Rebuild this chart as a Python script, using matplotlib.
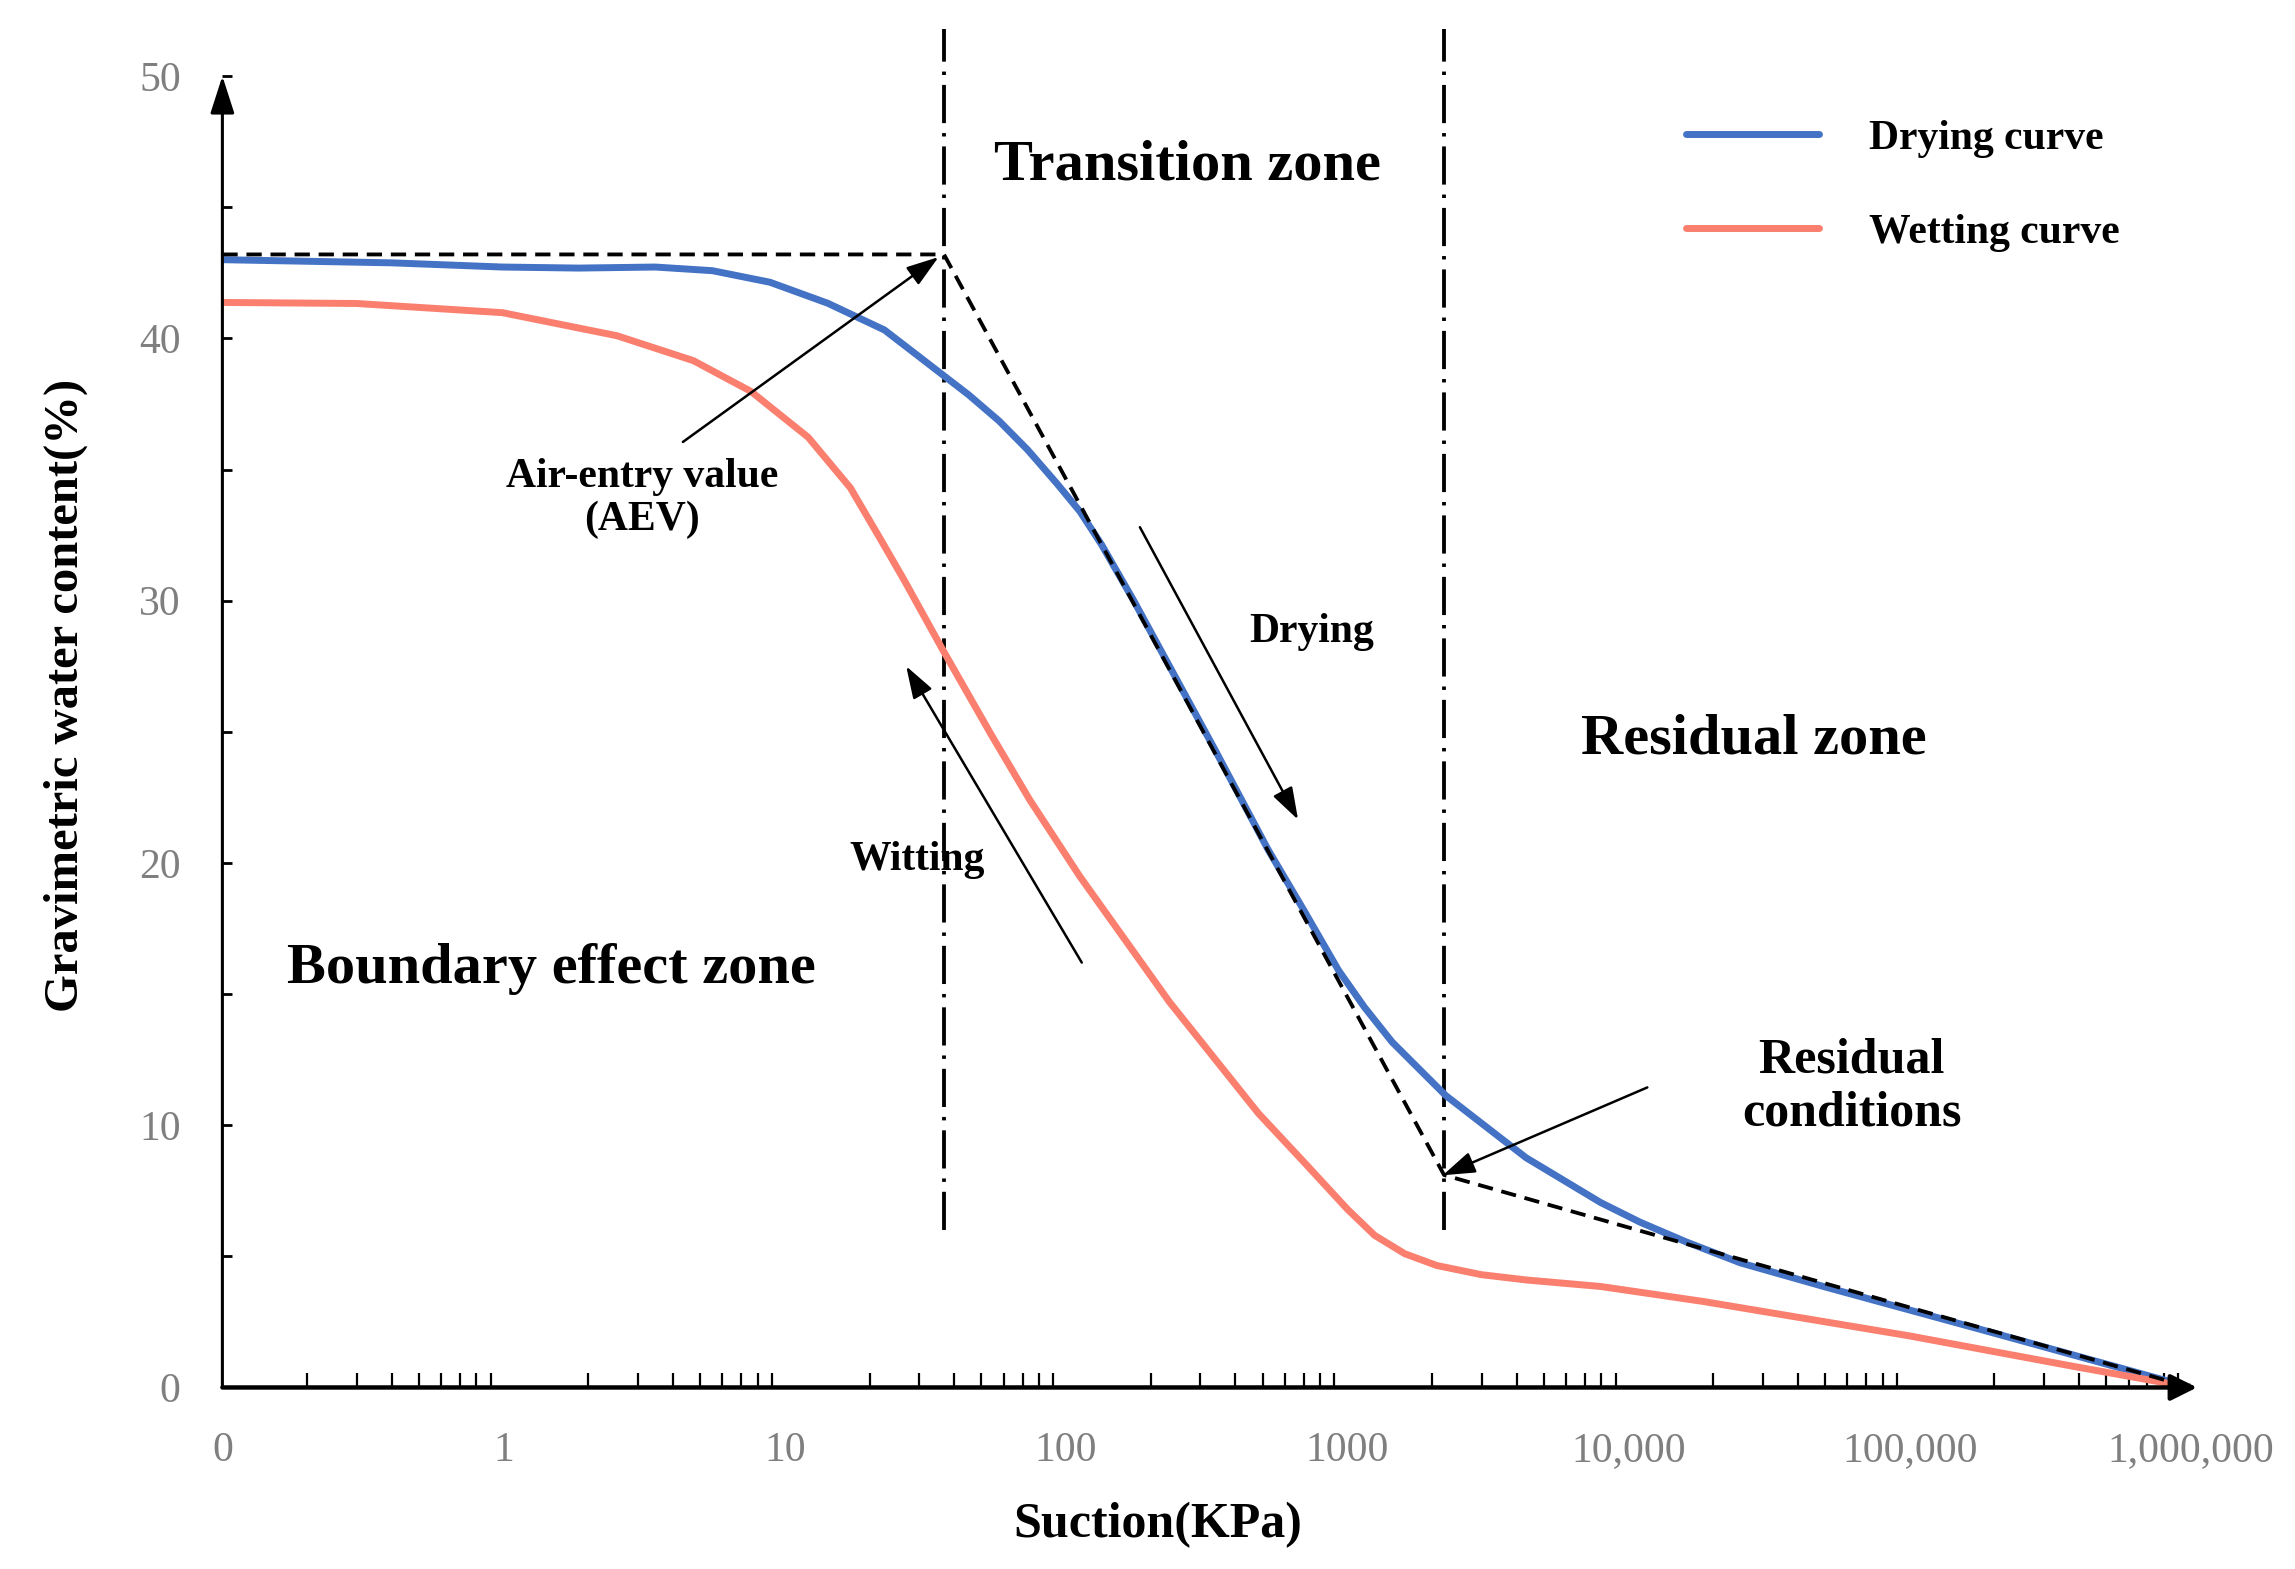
import matplotlib
matplotlib.use('Agg')
import matplotlib.pyplot as plt
from matplotlib.ticker import LogLocator, NullFormatter

plt.rcParams['font.family'] = ['Liberation Serif', 'DejaVu Serif']

# ------------------------------------------------------
# Soil-water characteristic curve
# suction in kPa, gravimetric water content in %
# ------------------------------------------------------
drying_suction = [0.1, 0.4, 0.99, 1.85, 3.46, 5.53, 8.85, 14.2, 22.6, 36.1, 45, 57.8, 73,
                  92.5, 112, 133.6, 174, 335, 523, 700, 931, 1150, 1443, 2239, 4320,
                  7960, 11000, 16030, 25000, 50500, 195000, 1e6]
drying_water = [43.0, 42.88, 42.72, 42.68, 42.72, 42.58, 42.14, 41.34, 40.32, 38.64, 37.85, 36.85, 35.75,
                34.48, 33.4, 32.14, 30.0, 24.4, 20.5, 18.2, 15.9, 14.5, 13.17, 11.13, 8.76,
                7.05, 6.3, 5.55, 4.75, 3.82, 2.1, 0.0]

wetting_suction = [0.1, 0.3, 0.99, 2.53, 4.73, 7.57, 12.1, 17.1, 22, 26.5, 36.1, 54.1, 74.3,
                   112, 233, 483, 700, 1000, 1250, 1600, 2080, 3000, 4320, 7960, 18400,
                   99300, 384000, 1e6]
wetting_water = [41.37, 41.33, 40.98, 40.1, 39.15, 37.98, 36.23, 34.3, 32.3, 30.8, 28.2, 24.9, 22.4,
                 19.48, 14.7, 10.45, 8.6, 6.8, 5.8, 5.1, 4.65, 4.3, 4.1, 3.85, 3.28,
                 1.97, 0.8, 0.0]

# construction lines: AEV point and residual point
tangent_suction = [0.1, 36.8, 2208, 1e6]
tangent_water = [43.2, 43.2, 8.1, 0.0]
zone_bounds = [36.8, 2208]

x_ticks = [0.1, 1, 10, 100, 1000, 1e4, 1e5, 1e6]
x_labels = ['0', '1', '10', '100', '1000', '10,000', '100,000', '1,000,000']
y_ticks = [0, 10, 20, 30, 40, 50]
y_minor = [5, 15, 25, 35, 45]

BLUE = '#4472C4'
RED = '#FA7F6E'
GREY = '#7F7F7F'

fig = plt.figure(figsize=(22.95, 15.69), dpi=100)
ax = fig.add_axes([0.0969, 0.1157, 0.8578, 0.8358])

ax.plot(drying_suction, drying_water, color=BLUE, lw=5, label='Drying curve',
        solid_capstyle='round', solid_joinstyle='round', zorder=3)
ax.plot(wetting_suction, wetting_water, color=RED, lw=5, label='Wetting curve',
        solid_capstyle='round', solid_joinstyle='round', zorder=3)
ax.plot(tangent_suction, tangent_water, color='black', lw=2.75, dashes=(4, 2.3), zorder=4)

for xb in zone_bounds:
    ax.plot([xb, xb], [6.0, 51.8], color='black', lw=2.75,
            dashes=(10, 2.6, 0.9, 2.6), clip_on=False, zorder=2)

ax.set_xscale('log')
ax.set_xlim(0.1, 1e6)
ax.set_ylim(0, 50)

# axes drawn as arrows
for s in ax.spines.values():
    s.set_visible(False)
ax.annotate('', xy=(0.1, 50), xytext=(0.1, 0), annotation_clip=False,
            arrowprops=dict(arrowstyle='-|>,head_length=1.15,head_width=0.37',
                            lw=2.2, color='black', mutation_scale=20,
                            shrinkA=0, shrinkB=0))
ax.annotate('', xy=(1.05e6, 0), xytext=(0.1, 0), annotation_clip=False,
            arrowprops=dict(arrowstyle='-|>,head_length=0.8,head_width=0.4',
                            lw=3.2, color='black', mutation_scale=20,
                            shrinkA=0, shrinkB=0))

ax.set_xticks(x_ticks)
ax.set_xticklabels(x_labels)
ax.xaxis.set_minor_locator(LogLocator(base=10, subs=range(2, 10)))
ax.xaxis.set_minor_formatter(NullFormatter())
ax.tick_params(axis='x', which='major', length=0, pad=32, labelsize=30, labelcolor=GREY)
ax.tick_params(axis='x', which='minor', direction='in', length=10, width=1.6)

ax.set_yticks(y_ticks)
ax.set_yticks(y_minor, minor=True)
ax.tick_params(axis='y', which='both', direction='in', length=7, width=2,
               pad=30, labelsize=30, labelcolor=GREY)

# zone labels
zone_kw = dict(fontsize=42, fontweight='bold', ha='center', va='center')
ax.text(269, 46.6, 'Transition zone', **zone_kw)
ax.text(1.476, 15.96, 'Boundary effect zone', **zone_kw)
ax.text(27900, 24.7, 'Residual zone', **zone_kw)

# annotations
note_kw = dict(fontsize=30, fontweight='bold', ha='center', va='center')
ax.text(3.1, 33.9, 'Air-entry value\n(AEV)', linespacing=1.15, **note_kw)
ax.text(744, 28.8, 'Drying', **note_kw)
ax.text(29.4, 20.1, 'Witting', **note_kw)
ax.text(62200, 11.44, 'Residual\nconditions', fontsize=36, fontweight='bold',
        ha='center', va='center', linespacing=1.2)

arrow_kw = dict(arrowstyle='-|>,head_length=0.9,head_width=0.3', lw=1.8,
                color='black', mutation_scale=22, shrinkA=0, shrinkB=0)
ax.annotate('', xy=(35.2, 43.1), xytext=(4.34, 36.05), arrowprops=arrow_kw)
ax.annotate('', xy=(668, 21.65), xytext=(183, 32.8), arrowprops=arrow_kw)
ax.annotate('', xy=(27.0, 27.5), xytext=(113.7, 16.2), arrowprops=arrow_kw)
ax.annotate('', xy=(2183, 8.09), xytext=(11660, 11.44), arrowprops=arrow_kw)

ax.legend(loc='upper left', bbox_to_anchor=(0.7435, 0.967), frameon=False,
          prop=dict(size=30, weight='bold'), handlelength=3.2, handletextpad=1.2,
          labelspacing=1.34, borderpad=0, borderaxespad=0)

fig.text(0.5046, 0.028, 'Suction(KPa)', fontsize=36, fontweight='bold',
         ha='center', va='center')
fig.text(0.0288, 0.557, 'Gravimetric water content(%)', fontsize=35, fontweight='bold',
         ha='center', va='center', rotation=90)

fig.savefig('out.png', dpi=100)
